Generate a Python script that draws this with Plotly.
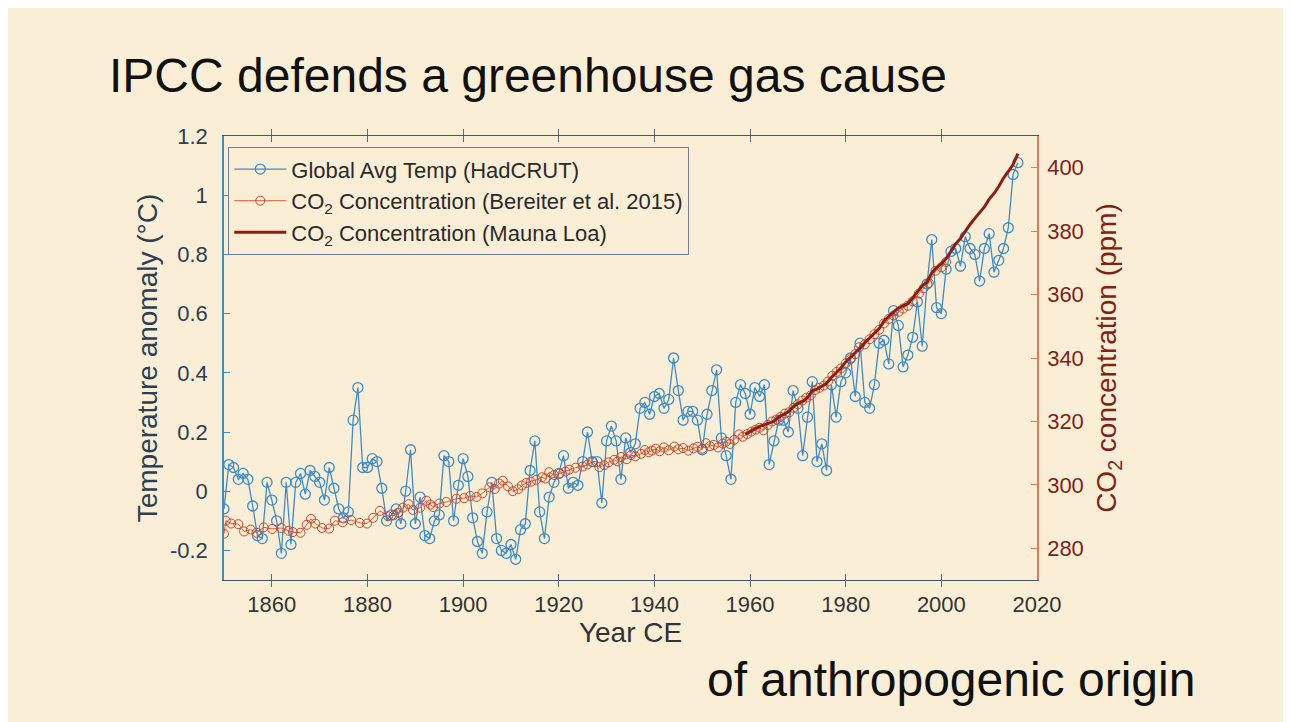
import plotly.graph_objects as go

# ---------------- data ----------------
temp_years = list(range(1850, 2017))
temp_anomaly = [
    -0.06, 0.09, 0.08, 0.04, 0.06, 0.04, -0.05, -0.15, -0.16, 0.03,
    -0.03, -0.10, -0.21, 0.03, -0.18, 0.03, 0.06, -0.01, 0.07, 0.05,
    0.03, -0.03, 0.08, 0.01, -0.06, -0.09, -0.07, 0.24, 0.35, 0.08,
    0.08, 0.11, 0.10, 0.01, -0.10, -0.08, -0.06, -0.11, 0.00, 0.14,
    -0.11, -0.02, -0.15, -0.16, -0.10, -0.08, 0.12, 0.10, -0.10, 0.02,
    0.11, 0.05, -0.09, -0.17, -0.21, -0.07, 0.03, -0.16, -0.20, -0.21,
    -0.18, -0.23, -0.13, -0.11, 0.07, 0.17, -0.07, -0.16, -0.02, 0.03,
    0.06, 0.12, 0.01, 0.03, 0.02, 0.10, 0.20, 0.10, 0.10, -0.04,
    0.17, 0.22, 0.17, 0.04, 0.18, 0.13, 0.16, 0.28, 0.30, 0.26,
    0.32, 0.33, 0.28, 0.31, 0.45, 0.34, 0.24, 0.27, 0.27, 0.24,
    0.14, 0.26, 0.34, 0.41, 0.18, 0.12, 0.04, 0.30, 0.36, 0.33,
    0.26, 0.35, 0.32, 0.36, 0.09, 0.17, 0.24, 0.24, 0.20, 0.34,
    0.28, 0.12, 0.25, 0.37, 0.10, 0.16, 0.07, 0.36, 0.25, 0.37,
    0.40, 0.45, 0.32, 0.50, 0.30, 0.28, 0.36, 0.50, 0.51, 0.43,
    0.61, 0.56, 0.42, 0.46, 0.52, 0.64, 0.49, 0.70, 0.85, 0.62,
    0.60, 0.75, 0.81, 0.82, 0.76, 0.86, 0.82, 0.80, 0.71, 0.82,
    0.87, 0.74, 0.78, 0.82, 0.89, 1.07, 1.11,
]

bereiter_years = [
    1850.0, 1850.4, 1851.5, 1853.0, 1854.2, 1855.6, 1856.8, 1858.3, 1860.1, 1862.0,
    1863.5, 1864.4, 1866.0, 1867.3, 1868.2, 1869.1, 1870.5, 1872.0, 1873.2, 1874.8,
    1876.6, 1878.4, 1879.9, 1881.2, 1882.6, 1884.3, 1885.5, 1886.4, 1887.4, 1888.6,
    1889.5, 1891.0, 1892.3, 1893.2, 1893.7, 1895.0, 1896.5, 1898.6, 1900.2, 1901.5,
    1902.8, 1904.0, 1905.5, 1906.6, 1907.5, 1908.3, 1909.4, 1910.4, 1911.5, 1912.3,
    1913.2, 1914.2, 1915.3, 1916.5, 1917.2, 1918.0, 1919.0, 1920.2, 1921.4, 1922.2,
    1923.5, 1925.0, 1926.0, 1927.1, 1928.5, 1929.5, 1930.4, 1931.6, 1932.3, 1933.0,
    1934.2, 1935.1, 1936.0, 1937.2, 1938.0, 1938.8, 1939.5, 1940.3, 1941.1, 1942.0,
    1943.0, 1944.2, 1945.0, 1946.0, 1947.1, 1948.2, 1949.0, 1950.0, 1950.8, 1951.6,
    1952.4, 1953.3, 1954.3, 1955.0, 1955.8, 1956.7, 1957.7, 1958.5, 1959.4, 1960.3,
    1961.2, 1962.0, 1962.8, 1963.7, 1964.6, 1965.5, 1966.4, 1967.3, 1968.2, 1969.1,
    1970.0, 1970.9, 1971.8, 1972.7, 1973.6, 1974.5, 1975.4, 1976.3, 1977.2, 1978.1,
    1979.0, 1980.0, 1981.0, 1982.0, 1982.8, 1984.0, 1985.0, 1986.0, 1987.0, 1988.0,
    1989.0, 1990.0, 1991.1, 1992.0, 1993.0, 1994.0, 1995.3, 1996.3, 1997.4, 1998.8,
    2000.0, 2001.0,
]
bereiter_ppm = [
    284.6, 288.7, 287.8, 287.6, 285.3, 285.9, 284.9, 286.6, 286.1, 286.4,
    285.5, 285.1, 284.9, 287.4, 289.3, 287.8, 286.4, 286.2, 288.7, 288.2,
    288.9, 288.0, 287.8, 289.6, 291.8, 290.1, 290.4, 291.2, 292.8, 293.9,
    292.1, 292.8, 295.0, 293.8, 293.0, 294.1, 294.6, 295.6, 295.8, 296.5,
    296.2, 297.3, 299.2, 298.7, 300.4, 301.3, 299.5, 298.0, 298.6, 299.8,
    300.6, 301.0, 301.6, 302.4, 302.0, 304.0, 303.1, 303.6, 304.2, 304.8,
    305.4, 305.8, 306.4, 307.2, 305.6, 306.2, 307.1, 307.9, 307.4, 308.8,
    308.1, 309.4, 309.0, 309.8, 311.0, 310.3, 310.8, 311.4, 310.6, 311.8,
    310.9, 312.1, 311.2, 311.6, 310.8, 311.5, 312.0, 311.4, 313.1, 312.2,
    312.6, 311.8, 313.0, 313.6, 312.9, 314.2, 315.9, 315.2, 316.0, 316.8,
    317.4, 318.0, 317.2, 318.9, 320.0, 320.6, 321.4, 322.5, 322.9, 324.3,
    325.4, 326.6, 327.5, 328.2, 329.9, 330.6, 331.3, 332.6, 334.4, 335.6,
    336.7, 338.3, 339.6, 341.2, 343.4, 344.3, 345.9, 347.5, 348.9, 350.9,
    352.3, 353.4, 354.6, 355.6, 356.5, 357.9, 360.3, 362.0, 363.6, 367.5,
    368.6, 370.3,
]

mlo_years = list(range(1959, 2017))
mlo_ppm = [
    315.97, 316.91, 317.64, 318.45, 318.99, 319.62, 320.04, 321.37, 322.18, 323.05,
    324.62, 325.68, 326.32, 327.46, 329.68, 330.19, 331.12, 332.03, 333.84, 335.41,
    336.84, 338.76, 340.12, 341.48, 343.15, 344.85, 346.35, 347.61, 349.31, 351.69,
    353.20, 354.45, 355.70, 356.54, 357.21, 358.96, 360.97, 362.74, 363.88, 366.84,
    368.54, 369.71, 371.32, 373.45, 375.98, 377.70, 379.98, 382.09, 384.02, 385.83,
    387.64, 390.10, 391.85, 394.06, 396.74, 398.81, 401.01, 404.41,
]

x_ticks = [1860, 1880, 1900, 1920, 1940, 1960, 1980, 2000, 2020]
temp_ticks = [-0.2, 0, 0.2, 0.4, 0.6, 0.8, 1, 1.2]
temp_tick_labels = ["-0.2", "0", "0.2", "0.4", "0.6", "0.8", "1", "1.2"]
co2_ticks = [280, 300, 320, 340, 360, 380, 400]

# ---------------- styling ----------------
BG = "#FAEFD6"
FONT = "Liberation Sans, Arial, sans-serif"
BLUE = "#3D8CC7"
RED = "#DD5A33"
DARKRED = "#8E1E12"
LEFT_TXT = "#2D3E55"
RIGHT_TXT = "#7E2315"
TICK_SIZE = 22
LABEL_SIZE = 28

fig = go.Figure()

fig.add_trace(go.Scatter(
    x=temp_years, y=temp_anomaly, mode="lines+markers",
    name="Global Avg Temp (HadCRUT)",
    line=dict(color=BLUE, width=1.3),
    marker=dict(symbol="circle-open", size=10, color=BLUE, line=dict(width=1.3)),
    yaxis="y",
))
fig.add_trace(go.Scatter(
    x=bereiter_years, y=bereiter_ppm, mode="lines+markers",
    name="CO<sub>2</sub> Concentration (Bereiter et al. 2015)",
    line=dict(color=RED, width=1),
    marker=dict(symbol="circle-open", size=9, color="#C8472A", line=dict(width=1)),
    yaxis="y2",
))
fig.add_trace(go.Scatter(
    x=mlo_years, y=mlo_ppm, mode="lines",
    name="CO<sub>2</sub> Concentration (Mauna Loa)",
    line=dict(color=DARKRED, width=3),
    yaxis="y2",
))

fig.update_layout(
    width=1291, height=722, autosize=False,
    margin=dict(l=216, r=262, t=128, b=150, autoexpand=False),
    paper_bgcolor=BG, plot_bgcolor=BG,
    font=dict(family=FONT, size=TICK_SIZE, color="#333333"),
    showlegend=True,
    legend=dict(
        x=0.005, y=0.975, xanchor="left", yanchor="top",
        bgcolor=BG, bordercolor="#6F8096", borderwidth=1.2,
        font=dict(family=FONT, size=22, color="#2A2A2A"),
        tracegroupgap=0, itemwidth=52,
    ),
    xaxis=dict(
        range=[1850, 2020], tickvals=x_ticks, ticktext=[str(v) for v in x_ticks],
        ticks="inside", ticklen=6, tickcolor="#5A6A80", tickwidth=1,
        showline=True, linecolor="#4A5566", linewidth=1.2, mirror="allticks",
        showgrid=False, zeroline=False, ticklabelstandoff=4,
        tickfont=dict(family=FONT, size=TICK_SIZE, color="#333333"),
        title=dict(text="Year CE", font=dict(family=FONT, size=LABEL_SIZE, color="#333333"), standoff=6),
    ),
    yaxis=dict(
        range=[-0.3, 1.2], tickvals=temp_ticks, ticktext=temp_tick_labels,
        ticks="inside", ticklen=6, tickcolor=BLUE, tickwidth=1,
        showline=True, linecolor=BLUE, linewidth=1.5,
        showgrid=False, zeroline=False, ticklabelstandoff=10,
        tickfont=dict(family=FONT, size=TICK_SIZE, color=LEFT_TXT),
        title=dict(text="Temperature anomaly (°C)", font=dict(family=FONT, size=LABEL_SIZE, color=LEFT_TXT), standoff=4),
    ),
    yaxis2=dict(
        range=[270, 410], tickvals=co2_ticks, overlaying="y", side="right",
        ticks="inside", ticklen=6, tickcolor="#E2775C", tickwidth=1,
        showline=True, linecolor="#E8765A", linewidth=1.5,
        showgrid=False, zeroline=False, ticklabelstandoff=4,
        tickfont=dict(family=FONT, size=TICK_SIZE, color=RIGHT_TXT),
        title=dict(text="CO<sub>2</sub> concentration (ppm)", font=dict(family=FONT, size=LABEL_SIZE, color=RIGHT_TXT), standoff=14),
    ),
    annotations=[
        dict(text="IPCC defends a greenhouse gas cause", xref="paper", yref="paper",
             x=-0.1439, y=1.137, xanchor="left", yanchor="middle", showarrow=False,
             font=dict(family=FONT, size=48, color="#111111")),
        dict(text="of anthropogenic origin", xref="paper", yref="paper",
             x=1.1968, y=-0.225, xanchor="right", yanchor="middle", showarrow=False,
             font=dict(family=FONT, size=48, color="#111111")),
    ],
)

fig.write_html("out.html")
